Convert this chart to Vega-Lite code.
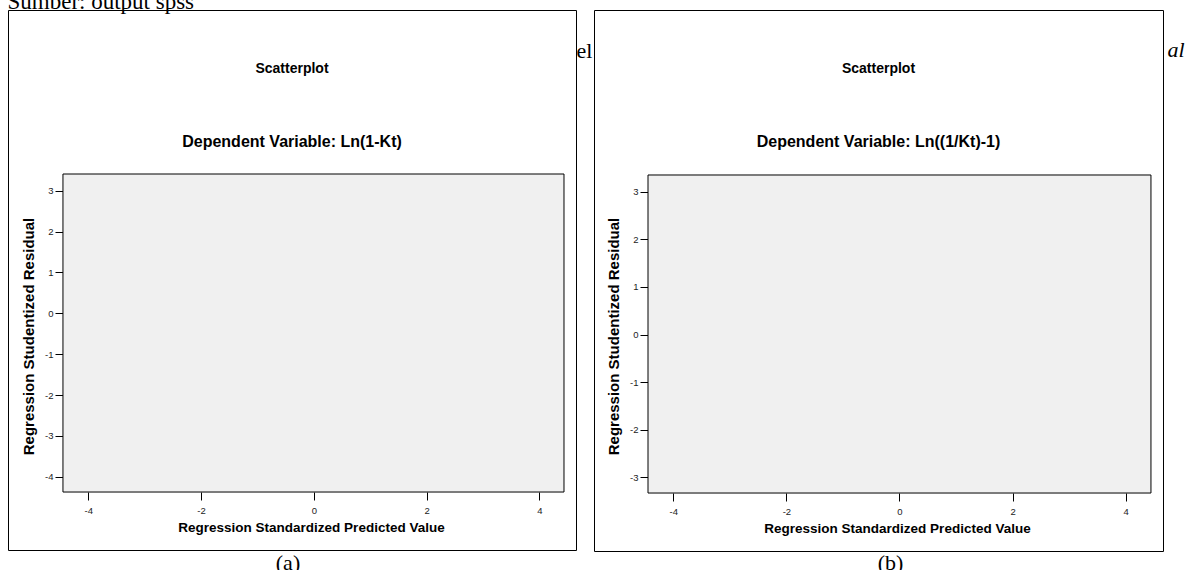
{
  "$schema": "https://vega.github.io/schema/vega-lite/v6.json",
  "background": "white",
  "padding": {"left": 7, "top": -10, "right": 0, "bottom": -4},
  "title": {"text": "Sumber: output spss", "anchor": "start", "font": "Liberation Serif", "fontSize": 23, "fontWeight": "normal", "color": "black", "offset": -4},
  "spacing": 0,
  "hconcat": [
    {
      "title": {"text": "el", "orient": "right", "angle": 0, "anchor": "start", "align": "left", "baseline": "alphabetic", "dy": 48, "offset": -16, "font": "Liberation Serif", "fontSize": 22, "fontWeight": "normal", "color": "black"},
      "hconcat": [
        {
          "title": {"text": "(a)", "orient": "bottom", "anchor": "middle", "font": "Liberation Serif", "fontSize": 22, "fontWeight": "normal", "color": "black", "offset": 2, "dx": -4},
          "vconcat": [
            {
              "width": 568,
              "height": 540,
              "data": {"values": [{"panel": "a", "dependent": "Ln(1-Kt)"}]},
              "title": {"text": "Scatterplot", "subtitle": "Dependent Variable: Ln(1-Kt)", "anchor": "middle", "offset": -140, "font": "Liberation Sans", "fontSize": 14, "fontWeight": "bold", "color": "black", "subtitleFont": "Liberation Sans", "subtitleFontSize": 16, "subtitleFontWeight": "bold", "subtitleColor": "black", "subtitlePadding": 58},
              "mark": {"type": "rect", "fill": "#f0f0f0", "stroke": "black", "strokeWidth": 1},
              "encoding": {
                "x": {"datum": -4.449, "type": "quantitative", "scale": {"domain": [-5.424, 4.651], "nice": false, "zero": false},
                  "axis": {"orient": "bottom", "offset": -58, "values": [-4, -2, 0, 2, 4], "labelExpr": "toString(datum.value)", "tickSize": 8, "labelPadding": 5, "title": "Regression Standardized Predicted Value", "titleFontSize": 13.5, "titlePadding": 6, "titleX": 303}},
                "x2": {"datum": 4.438},
                "y": {"datum": 3.409, "type": "quantitative", "scale": {"domain": [-5.793, 7.423], "nice": false, "zero": false},
                  "axis": {"orient": "left", "offset": -55, "values": [-4, -3, -2, -1, 0, 1, 2, 3], "labelExpr": "toString(datum.value)", "tickSize": 8, "labelPadding": 2, "title": "Regression Studentized Residual", "titleFontSize": 15, "titlePadding": 8, "titleY": 326}},
                "y2": {"datum": -4.374}
              }
            }
          ]
        }
      ]
    },
    {
      "title": {"text": "al", "orient": "right", "angle": 0, "anchor": "start", "align": "left", "baseline": "alphabetic", "dy": 47, "offset": -13, "font": "Liberation Serif", "fontSize": 22, "fontStyle": "italic", "fontWeight": "normal", "color": "black"},
      "hconcat": [
        {
          "title": {"text": "(b)", "orient": "bottom", "anchor": "middle", "font": "Liberation Serif", "fontSize": 22, "fontWeight": "normal", "color": "black", "offset": 1, "dx": 12},
          "vconcat": [
            {
              "width": 569,
              "height": 541,
              "data": {"values": [{"panel": "b", "dependent": "Ln((1/Kt)-1)"}]},
              "title": {"text": "Scatterplot", "subtitle": "Dependent Variable: Ln((1/Kt)-1)", "anchor": "middle", "offset": -140, "font": "Liberation Sans", "fontSize": 14, "fontWeight": "bold", "color": "black", "subtitleFont": "Liberation Sans", "subtitleFontSize": 16, "subtitleFontWeight": "bold", "subtitleColor": "black", "subtitlePadding": 58},
              "mark": {"type": "rect", "fill": "#f0f0f0", "stroke": "black", "strokeWidth": 1},
              "encoding": {
                "x": {"datum": -4.447, "type": "quantitative", "scale": {"domain": [-5.402, 4.66], "nice": false, "zero": false},
                  "axis": {"orient": "bottom", "offset": -58, "values": [-4, -2, 0, 2, 4], "labelExpr": "toString(datum.value)", "tickSize": 8, "labelPadding": 5, "title": "Regression Standardized Predicted Value", "titleFontSize": 13.5, "titlePadding": 6, "titleX": 303}},
                "x2": {"datum": 4.447},
                "y": {"datum": 3.351, "type": "quantitative", "scale": {"domain": [-4.548, 6.817], "nice": false, "zero": false},
                  "axis": {"orient": "left", "offset": -54, "values": [-3, -2, -1, 0, 1, 2, 3], "labelExpr": "toString(datum.value)", "tickSize": 8, "labelPadding": 2, "title": "Regression Studentized Residual", "titleFontSize": 15, "titlePadding": 8, "titleY": 326}},
                "y2": {"datum": -3.33}
              }
            }
          ]
        }
      ]
    }
  ],
  "config": {
    "view": {"stroke": "black", "strokeWidth": 1, "fill": "white"},
    "axis": {"domain": false, "grid": false, "tickColor": "black", "tickWidth": 1, "labelFont": "Liberation Sans", "labelFontSize": 9.5, "labelColor": "#222222", "titleFont": "Liberation Sans", "titleColor": "black", "titleFontWeight": "bold"}
  }
}
